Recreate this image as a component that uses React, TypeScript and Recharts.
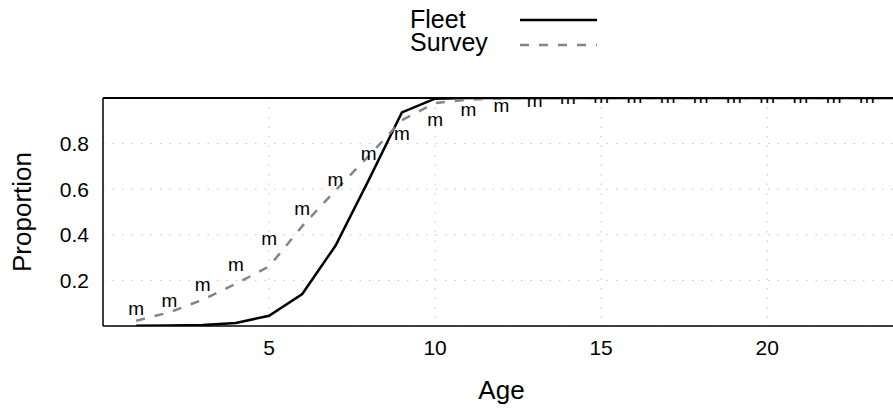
import {
  ComposedChart,
  Line,
  Scatter,
  XAxis,
  YAxis,
  CartesianGrid,
  ReferenceLine,
  ReferenceArea,
  Legend,
} from 'recharts';

const ages = [1, 2, 3, 4, 5, 6, 7, 8, 9, 10, 11, 12, 13, 14, 15, 16, 17, 18, 19, 20, 21, 22, 23, 24];
const fleet = [
  0.001, 0.002, 0.004, 0.013, 0.045, 0.14, 0.352, 0.64, 0.937, 0.997, 1, 1,
  1, 1, 1, 1, 1, 1, 1, 1, 1, 1, 1, 1,
];
const survey = [
  0.023, 0.06, 0.115, 0.185, 0.261, 0.438, 0.595, 0.745, 0.903, 0.978, 0.993, 0.998,
  1, 1, 1, 1, 1, 1, 1, 1, 1, 1, 1, 1,
];
const maturity = [
  0.068, 0.103, 0.174, 0.261, 0.378, 0.51, 0.634, 0.748, 0.839, 0.9, 0.941, 0.959,
  0.984, 0.997, 0.999, 1, 1, 1, 1, 1, 1, 1, 1, 1,
];
const xTicks = [5, 10, 15, 20];
const yTicks = [0.2, 0.4, 0.6, 0.8];

const rows = ages.map((age, i) => ({
  age,
  fleet: fleet[i],
  survey: survey[i],
  maturity: maturity[i],
}));

const FONT = '"Liberation Sans", Arial, Helvetica, sans-serif';
const CLIP_ID = 'sel-plot-clip';

function AgeTick({ x, y, payload }: any) {
  return (
    <text x={x} y={y + 29} textAnchor="middle" fontSize={21} fill="#000" fontFamily={FONT}>
      {payload.value}
    </text>
  );
}

function PropTick({ x, y, payload }: any) {
  return (
    <text x={x - 14} y={y + 7.5} textAnchor="end" fontSize={21} fill="#000" fontFamily={FONT}>
      {Number(payload.value).toFixed(1)}
    </text>
  );
}

// the reference area spans the whole plot, so its box doubles as a clip region
function PlotClip({ x, y, width, height }: any) {
  return (
    <defs>
      <clipPath id={CLIP_ID}>
        <rect x={x} y={y} width={width} height={height} />
      </clipPath>
    </defs>
  );
}

// maturity-at-age drawn as the letter "m"
function MatMark({ cx, cy }: any) {
  return (
    <g clipPath={`url(#${CLIP_ID})`}>
      <text x={cx} y={cy + 4.9} textAnchor="middle" fontSize={19} fill="#000" fontFamily={FONT}>
        m
      </text>
    </g>
  );
}

function KeyBox({ payload }: any) {
  const items = (payload ?? []).filter((p: any) => p.type !== 'none');
  return (
    <svg width={200} height={60} style={{ display: 'block' }}>
      {items.map((p: any, i: number) => (
        <g key={p.value}>
          <text x={10} y={28 + i * 22.5} fontSize={25} fill="#000" fontFamily={FONT}>
            {p.value}
          </text>
          <line
            x1={120}
            x2={197}
            y1={20 + i * 25}
            y2={20 + i * 25}
            stroke={p.color}
            strokeWidth={2.5}
            strokeDasharray={p.payload?.strokeDasharray}
          />
        </g>
      ))}
    </svg>
  );
}

export default function App() {
  return (
    <div
      style={{
        position: 'absolute',
        left: 0,
        top: 0,
        width: 893,
        height: 414,
        overflow: 'hidden',
        background: '#fff',
      }}
    >
      <ComposedChart
        width={910}
        height={414}
        data={rows}
        margin={{ top: 98, right: 10, bottom: 0, left: 0 }}
        style={{ fontFamily: FONT }}
      >
        <CartesianGrid stroke="#c4c4c4" strokeDasharray="1.5 8" />
        <XAxis
          dataKey="age"
          type="number"
          domain={[0, 24]}
          ticks={xTicks}
          allowDataOverflow
          height={88}
          tickLine={false}
          tickSize={0}
          tickMargin={0}
          tick={AgeTick}
          axisLine={{ stroke: '#000', strokeWidth: 1.5 }}
          label={{
            content: ({ viewBox }: any) => (
              <text
                x={viewBox.x + viewBox.width / 2}
                y={viewBox.y + 73}
                textAnchor="middle"
                fontSize={26}
                fill="#000"
                fontFamily={FONT}
              >
                Age
              </text>
            ),
          }}
        />
        <YAxis
          type="number"
          domain={[0, 1]}
          ticks={yTicks}
          allowDataOverflow
          width={103}
          tickLine={false}
          tickSize={0}
          tickMargin={0}
          tick={PropTick}
          axisLine={{ stroke: '#000', strokeWidth: 1.5 }}
          label={{
            content: ({ viewBox }: any) => {
              const cy = viewBox.y + viewBox.height / 2;
              return (
                <text
                  x={31}
                  y={cy}
                  transform={`rotate(-90 31 ${cy})`}
                  textAnchor="middle"
                  fontSize={26}
                  fill="#000"
                  fontFamily={FONT}
                >
                  Proportion
                </text>
              );
            },
          }}
        />
        <Legend
          layout="vertical"
          verticalAlign="middle"
          align="center"
          content={KeyBox}
          wrapperStyle={{ left: 400, top: 0, width: 200 }}
        />
        <ReferenceArea x1={0} x2={24} y1={0} y2={1} ifOverflow="visible" shape={PlotClip} />
        <Line
          name="Fleet"
          dataKey="fleet"
          type="linear"
          stroke="#000"
          strokeWidth={2.5}
          dot={false}
          isAnimationActive={false}
        />
        <Line
          name="Survey"
          dataKey="survey"
          type="linear"
          stroke="#858585"
          strokeWidth={2.5}
          strokeDasharray="9 10"
          dot={false}
          isAnimationActive={false}
        />
        <Scatter
          name="Maturity"
          dataKey="maturity"
          legendType="none"
          shape={MatMark}
          isAnimationActive={false}
        />
        <ReferenceLine y={1} stroke="#000" strokeWidth={2} />
      </ComposedChart>
    </div>
  );
}
